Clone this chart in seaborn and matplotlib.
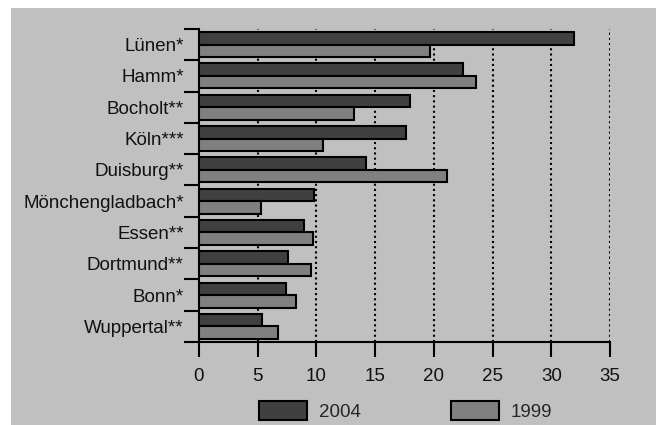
import matplotlib
matplotlib.use("Agg")
import matplotlib.pyplot as plt
from matplotlib.patches import Rectangle
import seaborn as sns
import pandas as pd

cities = ["Lünen*", "Hamm*", "Bocholt**", "Köln***", "Duisburg**",
          "Mönchengladbach*", "Essen**", "Dortmund**", "Bonn*", "Wuppertal**"]
v2004 = [31.9, 22.5, 18.0, 17.6, 14.2, 9.8, 8.9, 7.6, 7.4, 5.4]
v1999 = [19.7, 23.6, 13.2, 10.6, 21.1, 5.3, 9.7, 9.5, 8.3, 6.7]
years = ["2004", "1999"]
xticks = [0, 5, 10, 15, 20, 25, 30, 35]

df = pd.DataFrame({
    "city": cities * 2,
    "value": v2004 + v1999,
    "year": [years[0]] * len(cities) + [years[1]] * len(cities),
})

sns.set_theme(style="white")
plt.rcParams["font.family"] = ["Liberation Sans", "DejaVu Sans"]
plt.rcParams["font.size"] = 13.5

fig = plt.figure(figsize=(6.56, 4.25), dpi=100, facecolor="white")
fig.patches.append(Rectangle((11 / 656, 0), 1, 1 - 8 / 425, transform=fig.transFigure,
                             facecolor="#c0c0c0", edgecolor="none", zorder=-10))
ax = fig.add_axes([199 / 656, 83 / 425, 411 / 656, 313 / 425])
ax.set_facecolor("none")

sns.barplot(data=df, y="city", x="value", hue="year", orient="h",
            palette={"2004": "#404040", "1999": "#808080"},
            edgecolor="black", linewidth=1.5, width=0.8, ax=ax, legend=False,
            zorder=3)

ax.set_xlim(0, 35)
ax.set_ylim(len(cities) - 0.5, -0.5)
ax.set_xticks(xticks)
ax.set_xticklabels([str(t) for t in xticks], fontsize=13.5, color="#111111")
ax.set_yticks(range(len(cities)))
ax.set_yticklabels(cities, fontsize=13.5, color="#111111")
ax.set_yticks([i - 0.5 for i in range(len(cities) + 1)], minor=True)
ax.tick_params(axis="y", which="major", left=True, length=0, pad=11)
ax.tick_params(axis="y", which="minor", left=True, length=10.5, width=1.5,
               color="black", direction="out")
ax.tick_params(axis="x", which="major", bottom=True, length=10.5, width=1.5,
               color="black", direction="out", pad=8.5)
ax.set_xlabel("")
ax.set_ylabel("")

for s in ["top", "right"]:
    ax.spines[s].set_visible(False)
for s in ["left", "bottom"]:
    ax.spines[s].set_visible(True)
    ax.spines[s].set_color("black")
    ax.spines[s].set_linewidth(1.5)

ax.set_axisbelow(True)
for t in xticks[1:]:
    ax.axvline(t, color="black", linestyle=(0, (1, 1.5)), linewidth=1.5, zorder=1)

handles = [Rectangle((0, 0), 1, 1, facecolor="#404040", edgecolor="black", linewidth=1.5),
           Rectangle((0, 0), 1, 1, facecolor="#808080", edgecolor="black", linewidth=1.5)]
fig.legend(handles, years, loc="center", bbox_to_anchor=(0.618, 0.033), ncol=2,
           frameon=False, fontsize=13.5, handlelength=2.6, handleheight=1.2,
           handletextpad=0.6, columnspacing=4.8)

fig.savefig("out.png", dpi=100, facecolor="white")
